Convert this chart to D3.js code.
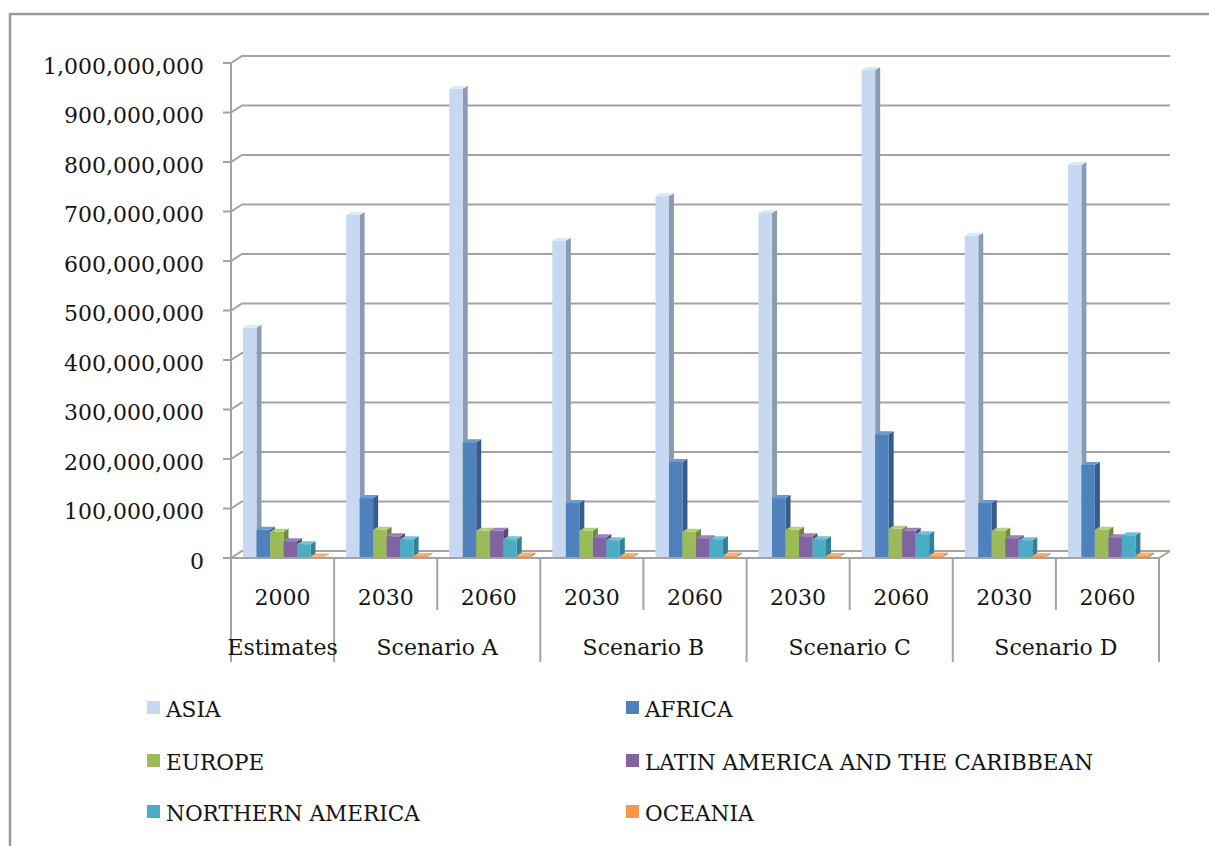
<!DOCTYPE html>
<html><head><meta charset="utf-8">
<script src="https://cdn.jsdelivr.net/npm/d3@7"></script>
<style>
body{margin:0;background:#fff}
svg{display:block}
text{font-family:"DejaVu Serif",serif;fill:#151515}
</style>
</head><body>
<svg id="chart" width="1209" height="846"></svg>
<script>
// ---- data ----
const years = ["2000","2030","2060","2030","2060","2030","2060","2030","2060"];
const groups = ["Estimates","Scenario A","Scenario B","Scenario C","Scenario D"];
const groupSpans = [1,2,2,2,2];
const seriesNames = ["ASIA","AFRICA","EUROPE","LATIN AMERICA AND THE CARIBBEAN","NORTHERN AMERICA","OCEANIA"];
const asia     = [465e6, 693e6, 948e6, 641e6, 731e6, 697e6, 986e6, 651e6, 794e6];
const africa   = [57e6, 121e6, 234e6, 111e6, 194e6, 121e6, 250e6, 111e6, 188e6];
const europe   = [53e6, 57e6, 55e6, 55e6, 53e6, 57e6, 59e6, 55e6, 57e6];
const latin    = [34e6, 44e6, 55e6, 42e6, 40e6, 44e6, 55e6, 40e6, 42e6];
const northAm  = [28e6, 38e6, 38e6, 36e6, 38e6, 38e6, 48e6, 36e6, 46e6];
const oceania  = [3e6, 4e6, 5e6, 4e6, 5e6, 4e6, 5e6, 4e6, 5e6];
const yTickValues = [0,1e8,2e8,3e8,4e8,5e8,6e8,7e8,8e8,9e8,1e9];

const seriesValues = [asia, africa, europe, latin, northAm, oceania];
const colFront = ["#c6d9f1","#4f81bd","#9bbb59","#8064a2","#4bacc6","#f79646"];
const colTop   = ["#dde8f6","#6e99cf","#b4cf7d","#9b82bd","#6ec3d8","#f9ad6e"];
const colSide  = ["#8a9bb2","#375c89","#6f893e","#5b4775","#338097","#bb6f33"];

// ---- geometry ----
const svg = d3.select("#chart");
const X0 = 231, X1 = 1159, DX = 11, DY = 7;   // wall depth offset
const BDX = 5, BDY = 3;                        // bar depth
const x = d3.scaleBand().domain(d3.range(years.length)).range([X0, X1]);
const sub = d3.scaleBand().domain(d3.range(seriesNames.length)).range([12, 12 + 81]);
const y = d3.scaleLinear().domain([0, 1e9]).range([558, 63]);
const gridCol = "#a3a3a3";

// outer border
svg.append("path").attr("d","M10,846 L10,14 L1209,14")
  .attr("fill","none").attr("stroke","#9a9a9a").attr("stroke-width",2.5);

// gridlines (back wall) + diagonal side-wall ticks
const g = svg.append("g").attr("fill","none").attr("stroke",gridCol).attr("stroke-width",2);
yTickValues.forEach(t => {
  const yy = y(t);
  g.append("path").attr("d",`M${X0-8},${yy} L${X0},${yy} L${X0+DX},${yy-DY} L${X1+DX},${yy-DY}`);
});
// front vertical axis
g.append("path").attr("d",`M${X0},${y(1e9)} L${X0},${y(0)}`);

// y labels via d3 axis (labels only, ticks drawn above)
const yAxis = svg.append("g").attr("transform",`translate(${X0-8},3)`)
  .call(d3.axisLeft(y).tickValues(yTickValues).tickFormat(d3.format(",")).tickSize(0).tickPadding(19));
yAxis.select(".domain").remove();
yAxis.selectAll("text").style("font-size","22px").attr("fill","#151515").style("font-family","'DejaVu Serif',serif");

// bars
const bars = svg.append("g");
years.forEach((yr, i) => {
  seriesNames.forEach((s, k) => {
    const v = seriesValues[k][i];
    const bx = x(i) + sub(k), bw = sub.bandwidth();
    const top = y(v), bot = y(0) - 1;
    bars.append("path")
      .attr("d",`M${bx+bw},${top} L${bx+bw+BDX},${top-BDY} L${bx+bw+BDX},${bot-BDY} L${bx+bw},${bot}Z`)
      .attr("fill",colSide[k]);
    bars.append("rect").attr("x",bx).attr("y",top).attr("width",bw).attr("height",Math.max(0,bot-top))
      .attr("fill",colFront[k]);
    bars.append("path")
      .attr("d",`M${bx},${top} L${bx+BDX},${top-BDY} L${bx+bw+BDX},${top-BDY} L${bx+bw},${top}Z`)
      .attr("fill",colTop[k]);
  });
});

// floor front edge
svg.append("path").attr("d",`M${X0},${y(0)} L${X1},${y(0)} L${X1+DX},${y(0)-DY}`)
  .attr("fill","none").attr("stroke",gridCol).attr("stroke-width",2);

// category dividers
const groupBounds = new Set([0]);
let acc = 0; groupSpans.forEach(s => { acc += s; groupBounds.add(acc); });
for (let i = 0; i <= years.length; i++) {
  const xx = i < years.length ? x(i) : X1;
  svg.append("line").attr("x1",xx).attr("x2",xx).attr("y1",y(0)).attr("y2",groupBounds.has(i) ? 662 : 610)
    .attr("stroke",gridCol).attr("stroke-width",2);
}

// year labels
svg.append("g").selectAll("text").data(years).join("text")
  .attr("x",(d,i)=>x(i)+x.bandwidth()/2).attr("y",605)
  .attr("text-anchor","middle").style("font-size","22px").text(d=>d);

// group labels
acc = 0;
groups.forEach((gname, j) => {
  const start = acc, end = acc + groupSpans[j];
  const cx = (x(start) + (end < years.length ? x(end) : X1)) / 2;
  svg.append("text").attr("x",cx).attr("y",655).attr("text-anchor","middle")
    .style("font-size","22px").text(gname);
  acc = end;
});

// legend
const legX = [147, 626], legY = [701, 754, 805];
seriesNames.forEach((s, k) => {
  const col = k % 2, row = Math.floor(k / 2);
  svg.append("rect").attr("x",legX[col]).attr("y",legY[row]).attr("width",13).attr("height",13)
    .attr("fill",colFront[k]);
  svg.append("text").attr("x",legX[col]+19).attr("y",legY[row]+16)
    .style("font-size","21.6px").text(s);
});
</script>
</body></html>
